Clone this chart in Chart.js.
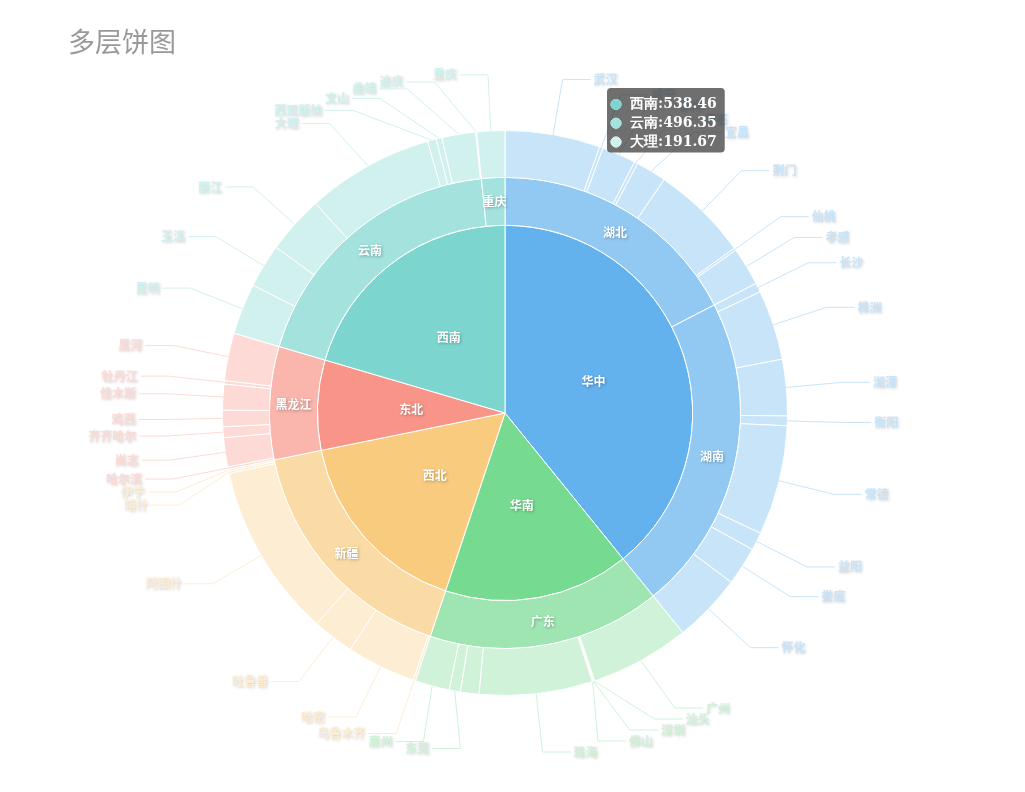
<!DOCTYPE html>
<html>
<head>
<meta charset="utf-8">
<title>多层饼图</title>
<script src="https://cdn.jsdelivr.net/npm/chart.js@4/dist/chart.umd.min.js"></script>
<style>
  html, body { margin: 0; padding: 0; background: #fff; }
</style>
</head>
<body>
<canvas id="myChart" width="1025" height="792"></canvas>
<script>
// 大区 (inner ring)
const regions = ['华中', '华南', '西北', '东北', '西南'];
const regionValues = [1031.60, 420.68, 439.01, 204.16, 538.46];

// 省份 (middle ring)
const provinces = ['湖北', '湖南', '广东', '新疆', '黑龙江', '云南', '重庆'];
const provinceValues = [458.74, 572.86, 420.68, 439.01, 204.16, 496.35, 42.11];
const provinceRegion = [0, 0, 1, 2, 3, 4, 4];

// 城市 (outer ring)
const cities = [
  '武汉', '咸宁', '鄂州', '黄石', '宜昌', '荆门', '仙桃', '孝感',
  '长沙', '株洲', '湘潭', '衡阳', '常德', '益阳', '娄底', '怀化',
  '广州', '汕头', '深圳', '佛山', '珠海', '中山', '东莞', '惠州',
  '乌鲁木齐', '哈密', '吐鲁番', '阿图什', '喀什', '伊宁',
  '哈尔滨', '尚志', '齐齐哈尔', '鸡西', '佳木斯', '牡丹江', '黑河',
  '昆明', '玉溪', '丽江', '大理', '西双版纳', '文山', '曲靖', '迪庆',
  '重庆'
];
const cityValues = [
  143.42, 5.13, 51.26, 5.08, 46.07, 146.31, 3.69, 57.78,
  13.92, 105.38, 84.85, 14.61, 165.33, 27.09, 57.81, 103.87,
  150.02, 1.48, 1.12, 1.05, 170.46, 27.83, 16.79, 51.93,
  3.71, 103.92, 62.87, 261.94, 3.68, 2.89,
  3.66, 43.87, 16.12, 24.91, 38.79, 5.13, 71.68,
  76.84, 65.79, 87.81, 191.67, 13.21, 8.79, 50.72, 1.52,
  42.11
];
const cityProvince = [
  0, 0, 0, 0, 0, 0, 0, 0,
  1, 1, 1, 1, 1, 1, 1, 1,
  2, 2, 2, 2, 2, 2, 2, 2,
  3, 3, 3, 3, 3, 3,
  4, 4, 4, 4, 4, 4, 4,
  5, 5, 5, 5, 5, 5, 5, 5,
  6
];
// labels that the reference leaves out (overlap)
const hiddenLabels = ['中山'];

const palette = ['#63b2ee', '#76da91', '#f8cb7f', '#f89588', '#7cd6cf'];

// mix a colour with white, like an alpha on a white page
function tint(hex, a) {
  const n = parseInt(hex.slice(1), 16);
  const r = Math.round(((n >> 16) & 255) * a + 255 * (1 - a));
  const g = Math.round(((n >> 8) & 255) * a + 255 * (1 - a));
  const b = Math.round((n & 255) * a + 255 * (1 - a));
  return `rgb(${r}, ${g}, ${b})`;
}

const regionColors = regions.map((r, i) => palette[i]);
const provinceColors = provinces.map((p, i) => tint(palette[provinceRegion[i]], 0.7));
const cityColors = cities.map((c, i) => tint(palette[provinceRegion[cityProvince[i]]], 0.35));

const ELBOW_EXTRA = 56;   // first segment of the label line
const LINE2 = 28;         // horizontal segment
const MIN_GAP = 7;
const TEXT_H = 13;
const BOUND_GAP = 11;
const LABEL_MAX_Y = 752;

function elbowDx(R, dy) {
  return Math.sqrt(Math.max(R * R - dy * dy, 0));
}

// move labels of one side down until their texts do not overlap
function spread(items, cx, cy, dir) {
  if (!items.length) return;
  items.sort((a, b) => a.y - b.y);
  const box = (it, y) => {
    const ex = cx + dir * elbowDx(it.R, y - cy);
    const s = ex + dir * (LINE2 + 3);
    return dir > 0 ? [s, s + it.w] : [s - it.w, s];
  };
  let b = box(items[0], items[0].y);
  items[0].x0 = b[0];
  items[0].x1 = b[1];
  for (let i = 1; i < items.length; i++) {
    const it = items[i];
    let y = Math.max(it.y, items[i - 1].y + MIN_GAP);
    b = box(it, y);
    for (let k = 0; k < 400; k++) {
      const hit = items.slice(0, i).some(p =>
        Math.abs(p.y - y) < TEXT_H && b[0] < p.x1 + 2 && b[1] > p.x0 - 2);
      if (!hit) break;
      y += 0.5;
      b = box(it, y);
    }
    it.y = y;
    it.x0 = b[0];
    it.x1 = b[1];
  }

  // keep the lowest label inside the page, pushing the others up
  const last = items[items.length - 1];
  let clamped = false;
  if (last.y > LABEL_MAX_Y) {
    last.y = LABEL_MAX_Y;
    clamped = true;
    for (let i = items.length - 2; i >= 0; i--) {
      if (items[i].y > items[i + 1].y - BOUND_GAP) items[i].y = items[i + 1].y - BOUND_GAP;
    }
  }

  let rB = 0;
  if (clamped) {
    const dy = last.y - cy;
    rB = Math.sqrt(dy * dy / (1 - last.ndx * last.ndx / (last.R * last.R)));
  }
  items.forEach(it => {
    const dy = it.y - cy;
    if (clamped && dy > 0) it.dx = Math.sqrt(Math.max(1 - dy * dy / (rB * rB), 0)) * it.R;
    else it.dx = elbowDx(it.R, dy);
  });
}

const ringLabels = {
  id: 'ringLabels',
  afterDatasetsDraw(chart) {
    const ctx = chart.ctx;

    // title
    ctx.save();
    ctx.font = "27px 'Noto Sans CJK SC', sans-serif";
    ctx.fillStyle = '#999';
    ctx.textBaseline = 'middle';
    ctx.textAlign = 'left';
    ctx.fillText('多层饼图', 68, 42);
    ctx.restore();

    // labels inside the inner and middle rings
    ctx.save();
    ctx.font = "bold 12px 'Noto Sans CJK SC', sans-serif";
    ctx.textAlign = 'center';
    ctx.textBaseline = 'middle';
    ctx.fillStyle = '#fff';
    ctx.shadowColor = 'rgba(0, 0, 0, 0.3)';
    ctx.shadowBlur = 3;
    ctx.shadowOffsetX = 1;
    ctx.shadowOffsetY = 1;
    [1, 2].forEach(di => {
      const ds = chart.data.datasets[di];
      chart.getDatasetMeta(di).data.forEach((arc, i) => {
        const mid = (arc.startAngle + arc.endAngle) / 2;
        const r = (arc.innerRadius + arc.outerRadius) / 2;
        ctx.fillText(ds.names[i], arc.x + r * Math.cos(mid), arc.y + r * Math.sin(mid));
      });
    });
    ctx.restore();

    // outer labels with lines
    ctx.save();
    ctx.font = "bold 12px 'Noto Sans CJK SC', sans-serif";
    const ds = chart.data.datasets[0];
    const left = [];
    const right = [];
    let cx = 0, cy = 0;
    chart.getDatasetMeta(0).data.forEach((arc, i) => {
      if (hiddenLabels.includes(ds.names[i])) return;
      const mid = (arc.startAngle + arc.endAngle) / 2;
      const R = arc.outerRadius + ELBOW_EXTRA;
      cx = arc.x;
      cy = arc.y;
      const item = {
        name: ds.names[i],
        w: ctx.measureText(ds.names[i]).width,
        color: ds.backgroundColor[i],
        sx: arc.x + arc.outerRadius * Math.cos(mid),
        sy: arc.y + arc.outerRadius * Math.sin(mid),
        y: arc.y + R * Math.sin(mid),
        ndx: Math.abs(R * Math.cos(mid)),
        R: R
      };
      (Math.cos(mid) >= 0 ? right : left).push(item);
    });
    spread(right, cx, cy, 1);
    spread(left, cx, cy, -1);

    ctx.textBaseline = 'middle';
    ctx.lineWidth = 1;
    [[right, 1], [left, -1]].forEach(([list, dir]) => {
      list.forEach(it => {
        const ex = cx + dir * it.dx;
        ctx.strokeStyle = it.color;
        ctx.beginPath();
        ctx.moveTo(it.sx, it.sy);
        ctx.lineTo(ex, it.y);
        ctx.lineTo(ex + dir * LINE2, it.y);
        ctx.stroke();
        ctx.save();
        ctx.shadowColor = 'rgba(0, 0, 0, 0.2)';
        ctx.shadowBlur = 3;
        ctx.shadowOffsetX = 1;
        ctx.shadowOffsetY = 1;
        ctx.fillStyle = it.color;
        ctx.textAlign = dir > 0 ? 'left' : 'right';
        ctx.fillText(it.name, ex + dir * (LINE2 + 3), it.y);
        ctx.restore();
      });
    });
    ctx.restore();
  }
};

// tooltip shown where the mouse rests in the reference
Chart.Tooltip.positioners.atMouse = function (elements, eventPosition) {
  return { x: eventPosition.x, y: eventPosition.y, xAlign: 'left', yAlign: 'top' };
};

const ctx = document.getElementById('myChart');
const myChart = new Chart(ctx, {
  type: 'doughnut',
  data: {
    datasets: [
      {
        names: cities,
        data: cityValues,
        backgroundColor: cityColors,
        hoverBackgroundColor: cityColors,
        borderColor: '#fff',
        borderWidth: 1,
        weight: 47
      },
      {
        names: provinces,
        data: provinceValues,
        backgroundColor: provinceColors,
        hoverBackgroundColor: provinceColors,
        borderColor: '#fff',
        borderWidth: 1,
        weight: 48
      },
      {
        names: regions,
        data: regionValues,
        backgroundColor: regionColors,
        hoverBackgroundColor: regionColors,
        borderColor: '#fff',
        borderWidth: 1,
        weight: 188
      }
    ]
  },
  options: {
    responsive: false,
    animation: false,
    events: [],
    cutout: 0,
    hoverOffset: 0,
    layout: {
      padding: { left: 222, right: 237, top: 130, bottom: 96 }
    },
    plugins: {
      legend: { display: false },
      title: { display: false },
      tooltip: {
        position: 'atMouse',
        xAlign: 'left',
        yAlign: 'top',
        backgroundColor: 'rgba(50, 50, 50, 0.7)',
        bodyColor: '#fff',
        bodyFont: { family: "'DejaVu Serif', serif", size: 14, weight: 'bold' },
        bodySpacing: 2,
        padding: { top: 8, bottom: 2, left: 4, right: 8 },
        caretSize: 0,
        caretPadding: 0,
        cornerRadius: 4,
        displayColors: true,
        usePointStyle: true,
        boxWidth: 10,
        boxHeight: 10,
        boxPadding: 7,
        callbacks: {
          title: () => '',
          label: c => c.dataset.names[c.dataIndex] + ':' + c.raw.toFixed(2),
          labelColor: c => ({
            borderColor: c.dataset.backgroundColor[c.dataIndex],
            backgroundColor: c.dataset.backgroundColor[c.dataIndex],
            borderWidth: 0
          }),
          labelPointStyle: () => ({ pointStyle: 'circle', rotation: 0 })
        }
      }
    }
  },
  plugins: [ringLabels]
});

// hover state of the reference: 西南 > 云南 > 大理
myChart.tooltip.setActiveElements([
  { datasetIndex: 2, index: regions.indexOf('西南') },
  { datasetIndex: 1, index: provinces.indexOf('云南') },
  { datasetIndex: 0, index: cities.indexOf('大理') }
], { x: 611, y: 88 });
myChart.update();
</script>
</body>
</html>
